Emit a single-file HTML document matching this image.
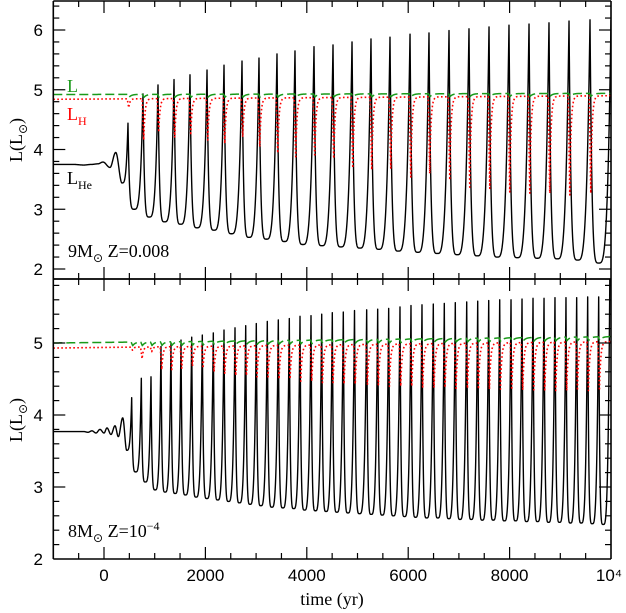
<!DOCTYPE html>
<html><head><meta charset="utf-8"><style>
html,body{margin:0;padding:0;background:#fff;}
svg{display:block;}
.tk{font-family:"Liberation Sans","DejaVu Sans",sans-serif;font-size:17px;fill:#000;}
.lb{font-family:"Liberation Serif","DejaVu Serif",serif;font-size:18px;}
</style></head><body>
<svg id="chart" width="626" height="613" viewBox="0 0 626 613" xmlns="http://www.w3.org/2000/svg">
<defs>
<clipPath id="clipTop"><rect x="53" y="1" width="558" height="278"/></clipPath>
<clipPath id="clipBot"><rect x="53" y="279" width="558" height="280"/></clipPath>
</defs>
<g id="curves"></g>
<g id="axes"></g>
<text class="lb" x="67" y="92" fill="#1a9a1a">L</text>
<text class="lb" x="67" y="120" fill="#ff0000">L<tspan font-size="12" dy="5">H</tspan></text>
<text class="lb" x="67" y="184" fill="#000">L<tspan font-size="12" dy="5">He</tspan></text>
<text class="lb" x="68" y="257" fill="#000">9M<tspan font-family="DejaVu Sans" font-size="12" dy="5">⊙</tspan><tspan dy="-5">  Z=0.008</tspan></text>
<text class="lb" x="68" y="537" fill="#000">8M<tspan font-family="DejaVu Sans" font-size="12" dy="5">⊙</tspan><tspan dy="-5">  Z=10</tspan><tspan font-size="12" dy="-7">−4</tspan></text>
<text class="lb" transform="translate(22,140) rotate(-90)" text-anchor="middle">L(L<tspan font-family="DejaVu Sans" font-size="12" dy="5">⊙</tspan><tspan dy="-5">)</tspan></text>
<text class="lb" transform="translate(22,420) rotate(-90)" text-anchor="middle">L(L<tspan font-family="DejaVu Sans" font-size="12" dy="5">⊙</tspan><tspan dy="-5">)</tspan></text>
<text class="lb" x="332" y="605" text-anchor="middle">time (yr)</text>
</svg>
<script>
// ---- data: top panel (9 Msun, Z=0.008) ----
const topPreT = [-1000,-600,-400,-250,-120,-20,118,231,355];
const topPreL = [3.75,3.75,3.74,3.75,3.76,3.79,3.70,3.95,3.44];
const topPulseT = [473,769,1065,1381,1696,2032,2367,2722,3057,3412,3767,4142,4517,4892,5266,5641,6036,6410,6805,7199,7594,7988,8383,8777,9172,9586];
const topPeak = [4.44,4.93,5.08,5.17,5.25,5.33,5.41,5.48,5.53,5.60,5.65,5.72,5.75,5.80,5.85,5.88,5.93,5.95,5.99,6.02,6.05,6.08,6.10,6.12,6.15,6.17];
const topTrough = [3.00,2.87,2.79,2.75,2.69,2.65,2.59,2.53,2.50,2.46,2.41,2.39,2.37,2.35,2.33,2.30,2.28,2.26,2.24,2.22,2.20,2.19,2.18,2.17,2.15,2.10];
const topHDip = [4.70,4.16,4.29,4.20,4.24,4.16,4.10,4.21,4.05,3.94,3.88,3.88,3.85,3.69,3.66,3.69,3.54,3.60,3.49,3.37,3.35,3.29,3.27,3.27,3.24,3.27];
const topHBase = [4.84,4.90];
const topLBase = [4.92,4.94];
// ---- data: bottom panel (8 Msun, Z=1e-4) ----
const botPreT = [-1000,-400,-316,-237,-158,-79,0,59,138,217,282,369,448];
const botPreL = [3.77,3.77,3.76,3.78,3.75,3.80,3.75,3.82,3.73,3.85,3.70,3.96,3.51];
const botPulseT = [546,736,927,1124,1321,1519,1730,1939,2156,2367,2584,2795,3004,3221,3438,3655,3866,4083,4294,4503,4720,4941,5181,5398,5615,5838,6055,6272,6495,6712,6929,7154,7371,7588,7805,8028,8245,8462,8679,8895,9112,9323,9540,9757];
const botPeak = [4.24,4.51,4.53,4.95,5.00,5.04,5.08,5.11,5.14,5.18,5.21,5.24,5.27,5.30,5.32,5.34,5.37,5.38,5.40,5.42,5.43,5.45,5.46,5.47,5.48,5.50,5.52,5.53,5.54,5.55,5.56,5.57,5.58,5.59,5.60,5.60,5.61,5.62,5.62,5.63,5.63,5.63,5.64,5.64];
const botTrough = [3.21,3.07,2.96,2.93,2.91,2.89,2.86,2.84,2.82,2.80,2.78,2.76,2.74,2.72,2.71,2.70,2.68,2.67,2.66,2.65,2.64,2.63,2.62,2.61,2.60,2.59,2.58,2.57,2.57,2.56,2.55,2.55,2.54,2.54,2.53,2.53,2.52,2.52,2.51,2.51,2.50,2.50,2.49,2.48];
const botHDip = [4.90,4.78,4.88,4.63,4.63,4.65,4.68,4.65,4.60,4.58,4.55,4.55,4.53,4.53,4.50,4.50,4.47,4.47,4.45,4.45,4.43,4.43,4.42,4.42,4.40,4.40,4.40,4.39,4.38,4.38,4.37,4.37,4.36,4.36,4.36,4.35,4.35,4.35,4.35,4.34,4.34,4.34,4.34,4.34];
const botHBase = [4.93,5.02];
const botLBase = [5.00,5.09];
// axis ranges
const xDomain = [-1000,10000];
const xTicksMajor = [0,2000,4000,6000,8000,10000];
const xTickLabels = ["0","2000","4000","6000","8000","10⁴"];
const topYTicks = [2,3,4,5,6];
const botYTicks = [2,3,4,5];

const NS = "http://www.w3.org/2000/svg";
const X0 = 53.3, X1 = 611;
function xs(t){ return X0 + (t - xDomain[0]) / (xDomain[1] - xDomain[0]) * (X1 - X0); }
function yTop(L){ return 30 + (6 - L) * 59.75; }
function yBot(L){ return 343 + (5 - L) * 72; }

function heAt(t, preT, preL, pT, pk, tr){
  if (t < preT[preT.length-1]) {
    for (let i = 0; i < preT.length-1; i++) {
      if (t >= preT[i] && t <= preT[i+1]) {
        const u = (t - preT[i]) / (preT[i+1] - preT[i]);
        return preL[i] + (preL[i+1] - preL[i]) * (1 - Math.cos(Math.PI*u)) / 2;
      }
    }
    return preL[0];
  }
  if (t < pT[0]) {
    const t0 = preT[preT.length-1], T = preL[preL.length-1];
    const s = (t - t0) / (pT[0] - t0);
    return T + (pk[0] - T) * Math.pow(s, 3.5);
  }
  let i = 0;
  while (i < pT.length-1 && t >= pT[i+1]) i++;
  const ti = pT[i];
  const dt = i < pT.length-1 ? pT[i+1] - ti : ti - pT[i-1];
  const tn = ti + dt;
  const Pn = i < pT.length-1 ? pk[i+1] : pk[i];
  const tm = ti + 0.42 * dt;
  const T = tr[i];
  if (t < tm) { const s = (tm - t) / (tm - ti); return T + (pk[i] - T) * Math.pow(s, 4.5); }
  const s = (t - tm) / (tn - tm); return T + (Pn - T) * Math.pow(s, 3.5);
}
function base(t, b){ return b[0] + (b[1]-b[0]) * (t - xDomain[0]) / (xDomain[1]-xDomain[0]); }
function hAt(t, pT, dip, b){
  let L = base(t, b);
  for (let i = 0; i < pT.length; i++) {
    const d = t - pT[i];
    if (d < -15 || d > 250) continue;
    const g = d < 15 ? (d + 15) / 30 : Math.exp(-(d - 15) / 25);
    L -= (base(pT[i], b) - dip[i]) * g;
  }
  return L;
}
function lAt(t, pT, b){
  let L = base(t, b);
  for (let i = 0; i < pT.length; i++) {
    const d = t - pT[i];
    if (d < -10 || d > 300) continue;
    const g = d < 20 ? (d + 10) / 30 : Math.exp(-(d - 20) / 50);
    L -= 0.05 * g;
  }
  return L;
}
function sampleTimes(pT){
  const set = [];
  for (let t = xDomain[0]; t <= xDomain[1]; t += 2) set.push(t);
  pT.forEach(p => { set.push(p); set.push(p + 15); set.push(p - 15); set.push(p + 20); set.push(p - 10); });
  return set.filter(t => t >= xDomain[0] && t <= xDomain[1]).sort((a,b) => a-b);
}
function pathFrom(fn, ys, pT){
  let p = "";
  sampleTimes(pT).forEach(t => {
    p += (p ? "L" : "M") + xs(t).toFixed(2) + " " + ys(fn(t)).toFixed(2);
  });
  return p;
}
const curves = document.getElementById("curves");
function addPath(d, color, width, dash, clip, name){
  const el = document.createElementNS(NS, "path");
  el.setAttribute("d", d);
  el.setAttribute("fill", "none");
  el.setAttribute("stroke", color);
  el.setAttribute("stroke-width", width);
  el.setAttribute("stroke-linejoin", "round");
  if (dash) el.setAttribute("stroke-dasharray", dash);
  el.setAttribute("clip-path", "url(#" + clip + ")");
  
  
  curves.appendChild(el);
}
addPath(pathFrom(t => heAt(t, topPreT, topPreL, topPulseT, topPeak, topTrough), yTop, topPulseT), "#000", 1.4, null, "clipTop", "top-lhe-line");
addPath(pathFrom(t => hAt(t, topPulseT, topHDip, topHBase), yTop, topPulseT), "#ff0000", 1.6, "1.6 2.4", "clipTop", "top-lh-line");
addPath(pathFrom(t => lAt(t, topPulseT, topLBase), yTop, topPulseT), "#1a9a1a", 1.5, "9 4", "clipTop", "top-l-line");
addPath(pathFrom(t => heAt(t, botPreT, botPreL, botPulseT, botPeak, botTrough), yBot, botPulseT), "#000", 1.4, null, "clipBot", "bottom-lhe-line");
addPath(pathFrom(t => hAt(t, botPulseT, botHDip, botHBase), yBot, botPulseT), "#ff0000", 1.6, "1.6 2.4", "clipBot", "bottom-lh-line");
addPath(pathFrom(t => lAt(t, botPulseT, botLBase), yBot, botPulseT), "#1a9a1a", 1.5, "9 4", "clipBot", "bottom-l-line");

// axes
const axes = document.getElementById("axes");
function line(x1,y1,x2,y2,w,name){
  const el = document.createElementNS(NS, "line");
  el.setAttribute("x1",x1); el.setAttribute("y1",y1); el.setAttribute("x2",x2); el.setAttribute("y2",y2);
  el.setAttribute("stroke","#000"); el.setAttribute("stroke-width",w);
  
  
  axes.appendChild(el);
}
function text(x,y,s,anchor,name){
  const el = document.createElementNS(NS, "text");
  el.setAttribute("x",x); el.setAttribute("y",y); el.setAttribute("class","tk");
  el.setAttribute("text-anchor",anchor);
  el.textContent = s;
  
  
  axes.appendChild(el);
}
const panels = [{y0:1,y1:279,ys:yTop,lo:1.8,hi:6.4,maj:topYTicks,n:"top"},{y0:279,y1:559,ys:yBot,lo:2,hi:5.8,maj:botYTicks,n:"bottom"}];
panels.forEach(p => {
  line(X0,p.y0,X1,p.y0,1.6,p.n+"-frame-top");
  line(X0,p.y1,X1,p.y1,1.6,p.n+"-frame-bottom");
  line(X0,p.y0,X0,p.y1,1.6,p.n+"-frame-left");
  line(X1,p.y0,X1,p.y1,1.6,p.n+"-frame-right");
  for (let t = -500; t < 10000; t += 500) {
    const major = t % 2000 === 0;
    const len = major ? 12 : 6;
    line(xs(t),p.y1,xs(t),p.y1-len,1.2,p.n+"-x-tick");
    line(xs(t),p.y0,xs(t),p.y0+len,1.2,p.n+"-x-tick");
  }
  for (let k = Math.round(p.lo*5); k <= Math.round(p.hi*5); k++) {
    const L = k/5;
    const y = p.ys(L);
    if (y <= p.y0+1 || y >= p.y1-1) continue;
    const major = k % 5 === 0;
    const len = major ? 12 : 6;
    line(X0,y,X0+len,y,1.2,p.n+"-y-tick");
    line(X1,y,X1-len,y,1.2,p.n+"-y-tick");
  }
  p.maj.forEach(v => text(43, p.ys(v)+6, String(v), "end", p.n+"-y-tick-label"));
});
xTicksMajor.forEach((t,i) => text(xs(t) + (i === xTicksMajor.length-1 ? -2 : 0), 581, xTickLabels[i], "middle", "x-tick-label"));
</script>
</body></html>
